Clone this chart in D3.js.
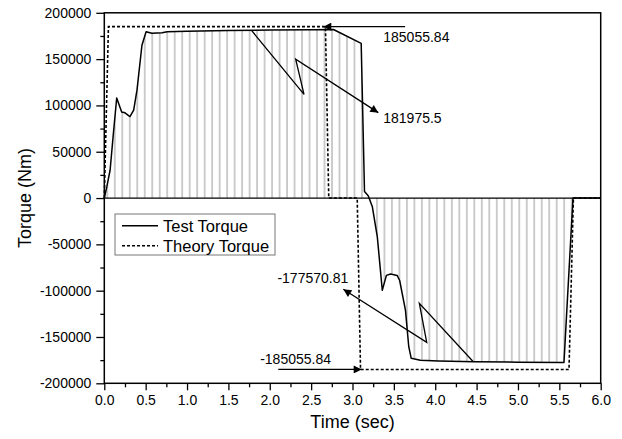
<!doctype html>
<html>
    <head>
        <meta charset="utf-8">
        <script src="https://d3js.org/d3.v7.min.js"></script>
        <style>
            body { margin: 0; background: #fff; }
            text { font-family: Arial, "Liberation Sans", sans-serif; fill: #000; }
        </style>
    </head>

    <body>
        <script>
            // test torque (time in sec, torque in Nm)
            var testTime = [0, 0.03, 0.07, 0.11, 0.15, 0.21, 0.25, 0.31, 0.355, 0.395, 0.455, 0.505, 0.575, 0.70, 0.76,
                            1.0, 1.5, 2.0, 2.5, 2.77, 3.105, 3.145, 3.19, 3.24, 3.30, 3.36, 3.41, 3.46, 3.54, 3.57,
                            3.64, 3.68, 3.71, 3.82, 4.04, 4.47, 5.0, 5.556, 5.665, 6.0];
            var testTorque = [0, 12000, 30000, 70000, 108000, 93000, 92000, 88000, 95000, 116500, 165000, 179500, 178000, 178500, 179600,
                              180200, 181000, 181400, 181700, 181975.5, 167000, 7000, 2500, -9500, -42000, -99500, -83500, -82000, -83500, -89000,
                              -121000, -160500, -173000, -175000, -175800, -176800, -177200, -177570.81, 0, 0];

            // theory torque
            var theoryTime = [0, 0.05, 2.673, 2.713, 3.057, 3.097, 5.617, 5.67, 6.0];
            var theoryTorque = [0, 185055.84, 185055.84, 0, 0, -185055.84, -185055.84, 0, 0];

            var xTicks = [0, 0.5, 1, 1.5, 2, 2.5, 3, 3.5, 4, 4.5, 5, 5.5, 6];
            var yTicks = [-200000, -150000, -100000, -50000, 0, 50000, 100000, 150000, 200000];

            var legendNames = ["Test Torque", "Theory Torque"];

            // annotations: label, label position, arrow polyline (arrow head at last point)
            var noteLabels = ["185055.84", "181975.5", "-177570.81", "-185055.84"];
            var noteText = [[3.372, 168500], [3.372, 81400], [2.949, -92100], [2.74, -179100]];
            var noteAnchor = ["start", "start", "end", "end"];
            var notePaths = [
                [[3.636, 185055.84], [2.647, 185055.84]],
                [[1.782, 180700], [2.414, 112000], [2.313, 149900], [3.312, 92200]],
                [[4.46, -176700], [3.808, -113700], [3.897, -155800], [2.889, -98500]],
                [[2.103, -185055.84], [3.111, -185055.84]]
            ];

            var width = 622;
            var height = 439;

            var svg = d3.select("body")
                .append("svg")
                .attr("width", width)
                .attr("height", height);

            var x = d3.scaleLinear().domain([0, 6]).range([104.3, 600.7]);
            var y = d3.scaleLinear().domain([-200000, 200000]).range([383.3, 12.8]);

            var defs = svg.append("defs");

            // vertical hatch used for the area under the test curve
            var pat = defs.append("pattern")
                .attr("id", "hatch")
                .attr("patternUnits", "userSpaceOnUse")
                .attr("x", 107.3 - 3.75)
                .attr("y", 0)
                .attr("width", 7.49)
                .attr("height", 10);
            pat.append("line")
                .attr("x1", 3.75).attr("x2", 3.75)
                .attr("y1", 0).attr("y2", 10)
                .attr("stroke", "#9a9a9a")
                .attr("stroke-width", 1);

            defs.append("marker")
                .attr("id", "head")
                .attr("viewBox", "0 0 10 10")
                .attr("refX", 10)
                .attr("refY", 5)
                .attr("markerUnits", "userSpaceOnUse")
                .attr("markerWidth", 12)
                .attr("markerHeight", 8)
                .attr("orient", "auto")
                .append("path")
                .attr("d", "M0,0 L10,5 L0,10 Z")
                .attr("fill", "#000");

            var test = testTime.map(function (t, i) { return [t, testTorque[i]]; });
            var theory = theoryTime.map(function (t, i) { return [t, theoryTorque[i]]; });

            // hatched fill
            svg.append("path")
                .datum(test)
                .attr("d", d3.area()
                    .x(function (d) { return x(d[0]); })
                    .y0(y(0))
                    .y1(function (d) { return y(d[1]); }))
                .attr("fill", "url(#hatch)");

            // zero line
            svg.append("line")
                .attr("x1", x(0)).attr("x2", x(6))
                .attr("y1", y(0)).attr("y2", y(0))
                .attr("stroke", "#000")
                .attr("stroke-width", 1.2);

            var line = d3.line()
                .x(function (d) { return x(d[0]); })
                .y(function (d) { return y(d[1]); });

            svg.append("path")
                .datum(theory)
                .attr("d", line)
                .attr("fill", "none")
                .attr("stroke", "#000")
                .attr("stroke-width", 1.6)
                .attr("stroke-dasharray", "3,2");

            svg.append("path")
                .datum(test)
                .attr("d", line)
                .attr("fill", "none")
                .attr("stroke", "#000")
                .attr("stroke-width", 1.5)
                .attr("stroke-linejoin", "round");

            // frame
            svg.append("rect")
                .attr("x", x(0)).attr("y", y(200000))
                .attr("width", x(6) - x(0))
                .attr("height", y(-200000) - y(200000))
                .attr("fill", "none")
                .attr("stroke", "#000")
                .attr("stroke-width", 1.5);

            // axes
            var xMinor = xTicks.slice(0, -1).map(function (t) { return t + 0.25; });
            var yMinor = yTicks.slice(0, -1).map(function (v) { return v + 25000; });

            var xAxis = svg.append("g")
                .attr("transform", "translate(0," + y(-200000) + ")")
                .call(d3.axisBottom(x).tickValues(xTicks).tickSize(7).tickPadding(5)
                    .tickFormat(function (d) { return d.toFixed(1); }));
            svg.append("g")
                .attr("transform", "translate(0," + y(-200000) + ")")
                .call(d3.axisBottom(x).tickValues(xMinor).tickSize(4).tickFormat(""));

            var yAxis = svg.append("g")
                .attr("transform", "translate(" + x(0) + ",0)")
                .call(d3.axisLeft(y).tickValues(yTicks).tickSize(8).tickPadding(5)
                    .tickFormat(function (d) { return String(d); }));
            svg.append("g")
                .attr("transform", "translate(" + x(0) + ",0)")
                .call(d3.axisLeft(y).tickValues(yMinor).tickSize(4).tickFormat(""));

            svg.selectAll(".domain").remove();
            svg.selectAll(".tick line").attr("stroke", "#000").attr("stroke-width", 1.3);
            svg.selectAll(".tick text")
                .style("font-size", "14px")
                .style("font-family", "Arial, 'Liberation Sans', sans-serif")
                .attr("fill", "#000");

            // axis titles
            svg.append("text")
                .attr("x", (x(0) + x(6)) / 2)
                .attr("y", 428)
                .attr("text-anchor", "middle")
                .style("font-size", "18px")
                .text("Time (sec)");

            svg.append("text")
                .attr("transform", "translate(31," + y(0) + ") rotate(-90)")
                .attr("text-anchor", "middle")
                .style("font-size", "18px")
                .text("Torque (Nm)");

            // annotations
            notePaths.forEach(function (pts, i) {
                svg.append("path")
                    .datum(pts)
                    .attr("d", line)
                    .attr("fill", "none")
                    .attr("stroke", "#000")
                    .attr("stroke-width", 1.3)
                    .attr("marker-end", "url(#head)");
                svg.append("text")
                    .attr("x", x(noteText[i][0]))
                    .attr("y", y(noteText[i][1]))
                    .attr("text-anchor", noteAnchor[i])
                    .style("font-size", "14px")
                    .text(noteLabels[i]);
            });

            // legend
            var legend = svg.append("g");
            legend.append("rect")
                .attr("x", 115).attr("y", 214)
                .attr("width", 160).attr("height", 41)
                .attr("fill", "#fff")
                .attr("stroke", "#777")
                .attr("stroke-width", 1);

            var legendG = legend.selectAll(".legend")
                .data(legendNames)
                .enter().append("g")
                .attr("class", "legend")
                .attr("transform", function (d, i) {
                    return "translate(122," + (225.7 + i * 20) + ")";
                });

            legendG.append("line")
                .attr("x1", 0).attr("x2", 36)
                .attr("stroke", "#000")
                .attr("stroke-width", 1.5)
                .attr("stroke-dasharray", function (d, i) { return i == 1 ? "3,2" : null; });

            legendG.append("text")
                .attr("x", 41)
                .attr("y", 6)
                .style("font-size", "16.5px")
                .text(function (d) { return d; });

        </script>
    </body>
</html>
